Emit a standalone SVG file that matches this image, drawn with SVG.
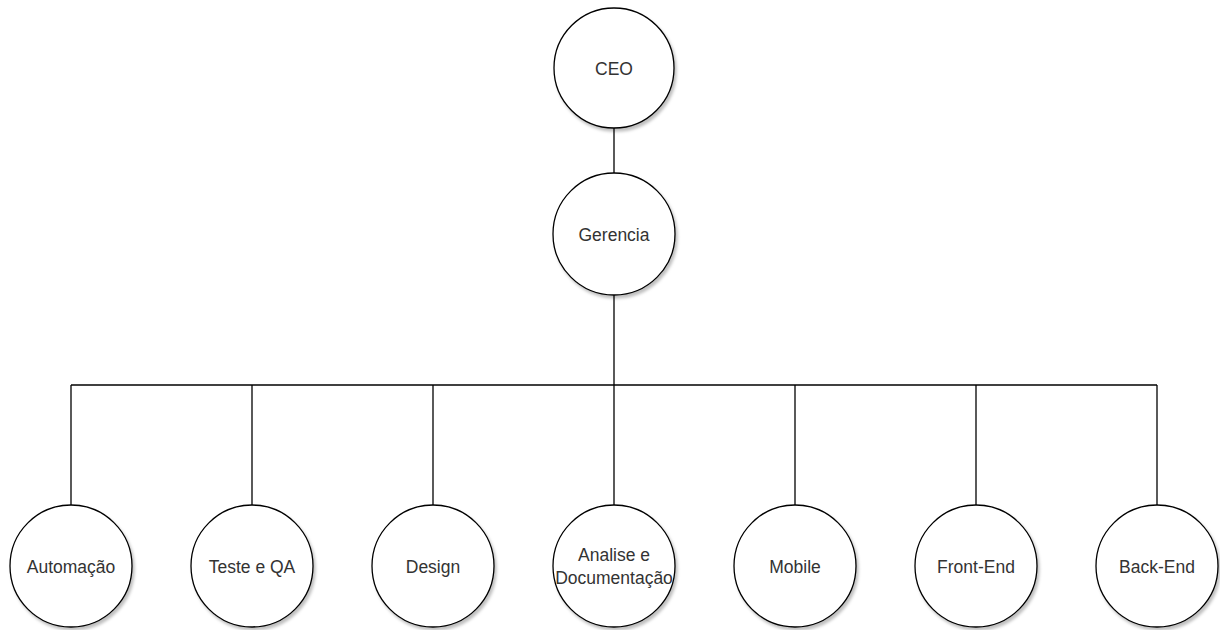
<svg xmlns="http://www.w3.org/2000/svg" width="1220" height="630" viewBox="0 0 1220 630">
  <defs>
    <filter id="shadow" x="-20%" y="-20%" width="150%" height="150%">
      <feDropShadow dx="2" dy="3" stdDeviation="1.5" flood-color="#000" flood-opacity="0.25"/>
    </filter>
  </defs>
  <style>
    .node circle { fill: #fff; stroke: #000; stroke-width: 1.3; filter: url(#shadow); }
    .node text { font-family: "Liberation Sans", Arial, sans-serif; font-size: 17.5px; fill: #333; text-anchor: middle; }
    .edges path { fill: none; stroke: #000; stroke-width: 1.3; }
  </style>
  <rect width="1220" height="630" fill="#fff"/>

  <!-- connectors -->
  <g class="edges">
    <path d="M614 128 V173"/>
    <path d="M614 295 V385"/>
    <path d="M71 385 H1157"/>
    <path d="M71 385 V505"/>
    <path d="M252 385 V505"/>
    <path d="M433 385 V505"/>
    <path d="M614 385 V505"/>
    <path d="M795 385 V505"/>
    <path d="M976 385 V505"/>
    <path d="M1157 385 V505"/>
  </g>

  <!-- nodes -->
  <g id="ceo" class="node">
    <circle cx="614" cy="68" r="60"/>
    <text x="614" y="75">CEO</text>
  </g>
  <g id="gerencia" class="node">
    <circle cx="614" cy="234" r="61"/>
    <text x="614" y="241">Gerencia</text>
  </g>
  <g id="automacao" class="node">
    <circle cx="71" cy="566" r="61"/>
    <text x="71" y="573">Automação</text>
  </g>
  <g id="teste-qa" class="node">
    <circle cx="252" cy="566" r="61"/>
    <text x="252" y="573">Teste e QA</text>
  </g>
  <g id="design" class="node">
    <circle cx="433" cy="566" r="61"/>
    <text x="433" y="573">Design</text>
  </g>
  <g id="analise-documentacao" class="node">
    <circle cx="614" cy="566" r="61"/>
    <text x="614" y="561">Analise e</text>
    <text x="614" y="584">Documentação</text>
  </g>
  <g id="mobile" class="node">
    <circle cx="795" cy="566" r="61"/>
    <text x="795" y="573">Mobile</text>
  </g>
  <g id="front-end" class="node">
    <circle cx="976" cy="566" r="61"/>
    <text x="976" y="573">Front-End</text>
  </g>
  <g id="back-end" class="node">
    <circle cx="1157" cy="566" r="61"/>
    <text x="1157" y="573">Back-End</text>
  </g>
</svg>
